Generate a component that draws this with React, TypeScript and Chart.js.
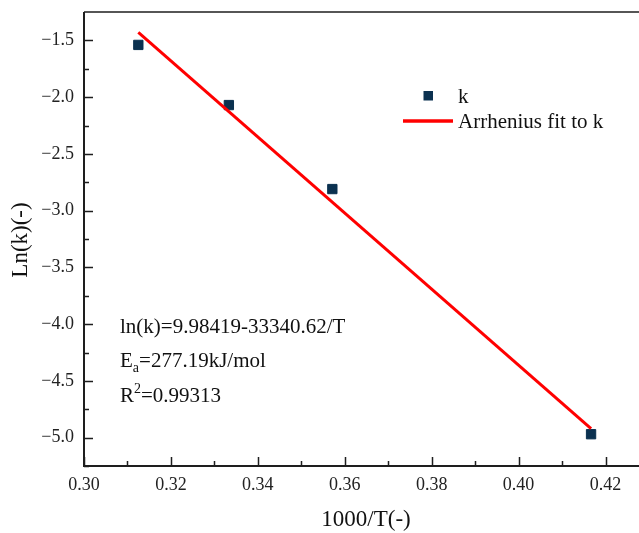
import React, { useEffect, useRef } from "react";
import { Chart, registerables } from "chart.js";

Chart.register(...registerables);

// Measured rate constants: x = 1000/T, y = ln(k)
const invTemp = [0.3125, 0.33333, 0.35714, 0.41667];
const lnK = [-1.54, -2.07, -2.81, -4.97];

// End points of the Arrhenius fit line
const fitInvTemp = [0.3125, 0.41667];
const fitLnK = [-1.43, -4.92];

// Axis ticks
const xTickValues = [0.3, 0.32, 0.34, 0.36, 0.38, 0.4, 0.42];
const xMinorValues = [0.31, 0.33, 0.35, 0.37, 0.39, 0.41];
const yTickValues = [-5.0, -4.5, -4.0, -3.5, -3.0, -2.5, -2.0, -1.5];
const yMinorValues = [-5.25, -4.75, -4.25, -3.75, -3.25, -2.75, -2.25, -1.75];

const X_MIN = 0.3;
const X_MAX = 0.4277;
const Y_MIN = -5.25;
const Y_MAX = -1.25;

const xTitle = "1000/T(-)";
const yTitle = "Ln(k)(-)";
const seriesLabel = "k";
const fitLabel = "Arrhenius fit to k";
const eqLine = "ln(k)=9.98419-33340.62/T";
const eaValue = "=277.19kJ/mol";
const r2Value = "=0.99313";

const SERIF = '"Liberation Serif", "Times New Roman", serif';
const NAVY = "#0b3150";
const RED = "#ff0000";
const INK = "#1e1e1e";

// The plot box runs to the right edge of the canvas.
const fullWidthPlugin = {
  id: "fullWidth",
  afterLayout(chart: any) {
    const area = chart.chartArea;
    area.right = chart.width;
    area.width = area.right - area.left;
    const xs = chart.scales.x;
    xs.right = chart.width;
    xs.width = xs.right - xs.left;
    xs.configure();
  },
};

const framePlugin = {
  id: "frameAndText",
  afterDraw(chart: any) {
    const { ctx, chartArea } = chart;
    const xs = chart.scales.x;
    const ys = chart.scales.y;
    const { left, top, bottom } = chartArea;
    const right = chart.width;
    ctx.save();

    // frame: left axis, bottom axis, top edge
    ctx.strokeStyle = INK;
    ctx.lineWidth = 2;
    ctx.beginPath();
    ctx.moveTo(left, top);
    ctx.lineTo(left, bottom);
    ctx.lineTo(right, bottom);
    ctx.stroke();
    ctx.lineWidth = 1.5;
    ctx.beginPath();
    ctx.moveTo(left, top);
    ctx.lineTo(right, top);
    ctx.stroke();

    // inward tick marks
    ctx.lineWidth = 1.5;
    ctx.beginPath();
    xTickValues.forEach((v) => {
      const px = Math.round(xs.getPixelForValue(v)) + 0.5;
      ctx.moveTo(px, bottom);
      ctx.lineTo(px, bottom - 9);
    });
    xMinorValues.forEach((v) => {
      const px = Math.round(xs.getPixelForValue(v)) + 0.5;
      ctx.moveTo(px, bottom);
      ctx.lineTo(px, bottom - 5);
    });
    yTickValues.forEach((v) => {
      const py = Math.round(ys.getPixelForValue(v)) + 0.5;
      ctx.moveTo(left, py);
      ctx.lineTo(left + 9, py);
    });
    yMinorValues.forEach((v) => {
      const py = Math.round(ys.getPixelForValue(v)) + 0.5;
      ctx.moveTo(left, py);
      ctx.lineTo(left + 5, py);
    });
    ctx.stroke();

    // axis titles
    ctx.fillStyle = "#111";
    ctx.font = `23px ${SERIF}`;
    ctx.textAlign = "center";
    ctx.textBaseline = "middle";
    ctx.fillText(xTitle, 366, 520);
    ctx.save();
    ctx.translate(21, 240);
    ctx.rotate(-Math.PI / 2);
    ctx.fillText(yTitle, 0, 0);
    ctx.restore();

    // legend
    ctx.fillStyle = NAVY;
    ctx.fillRect(423.5, 91, 9.5, 9.5);
    ctx.strokeStyle = RED;
    ctx.lineWidth = 3.5;
    ctx.beginPath();
    ctx.moveTo(403, 121);
    ctx.lineTo(453, 121);
    ctx.stroke();
    ctx.fillStyle = "#111";
    ctx.font = `21px ${SERIF}`;
    ctx.textAlign = "left";
    ctx.textBaseline = "alphabetic";
    ctx.fillText(seriesLabel, 458, 102.5);
    ctx.fillText(fitLabel, 458, 128);

    // fit statistics
    const tx = 120;
    ctx.fillText(eqLine, tx, 333);
    ctx.fillText("E", tx, 366.5);
    let w = ctx.measureText("E").width;
    ctx.font = `14px ${SERIF}`;
    ctx.fillText("a", tx + w, 372);
    const wa = ctx.measureText("a").width;
    ctx.font = `21px ${SERIF}`;
    ctx.fillText(eaValue, tx + w + wa, 366.5);
    ctx.fillText("R", tx, 401.5);
    w = ctx.measureText("R").width;
    ctx.font = `14px ${SERIF}`;
    ctx.fillText("2", tx + w, 393);
    const w2 = ctx.measureText("2").width;
    ctx.font = `21px ${SERIF}`;
    ctx.fillText(r2Value, tx + w + w2, 401.5);

    ctx.restore();
  },
};

export default function App() {
  const canvasRef = useRef<HTMLCanvasElement | null>(null);

  useEffect(() => {
    const canvas = canvasRef.current;
    if (!canvas) return;
    const chart = new Chart(canvas, {
      type: "scatter",
      data: {
        datasets: [
          {
            type: "line",
            label: fitLabel,
            data: fitInvTemp.map((x, i) => ({ x, y: fitLnK[i] })),
            borderColor: RED,
            borderWidth: 3,
            pointRadius: 0,
            showLine: true,
            fill: false,
            order: 0,
          } as any,
          {
            type: "scatter",
            label: seriesLabel,
            data: invTemp.map((x, i) => ({ x, y: lnK[i] })),
            pointStyle: "rect",
            pointRadius: 6.6,
            backgroundColor: NAVY,
            borderColor: NAVY,
            borderWidth: 1,
            order: 1,
          },
        ],
      },
      options: {
        responsive: false,
        animation: false,
        devicePixelRatio: 1,
        layout: { padding: { top: 12, right: 0, bottom: 0, left: 0 } },
        plugins: {
          legend: { display: false },
          tooltip: { enabled: false },
        },
        scales: {
          x: {
            type: "linear",
            min: X_MIN,
            max: X_MAX,
            grid: { display: false, drawTicks: false },
            border: { display: false },
            afterBuildTicks: (scale: any) => {
              scale.ticks = xTickValues.map((v) => ({ value: v }));
            },
            afterFit: (scale: any) => {
              scale.height = 67;
              scale.paddingLeft = 0;
              scale.paddingRight = 0;
            },
            ticks: {
              padding: 8,
              color: "#222",
              font: { family: SERIF, size: 18 },
              maxRotation: 0,
              autoSkip: false,
              callback: (v: any) => Number(v).toFixed(2),
            },
          },
          y: {
            type: "linear",
            min: Y_MIN,
            max: Y_MAX,
            grid: { display: false, drawTicks: false },
            border: { display: false },
            afterBuildTicks: (scale: any) => {
              scale.ticks = yTickValues.map((v) => ({ value: v }));
            },
            afterFit: (scale: any) => {
              scale.width = 84;
              scale.paddingTop = 0;
              scale.paddingBottom = 0;
            },
            ticks: {
              padding: 10,
              color: "#222",
              font: { family: SERIF, size: 18 },
              autoSkip: false,
              callback: (v: any) => Number(v).toFixed(1).replace("-", "\u2212"),
            },
          },
        },
      },
      plugins: [fullWidthPlugin, framePlugin],
    });
    return () => chart.destroy();
  }, []);

  return (
    <div
      style={{
        position: "fixed",
        left: 0,
        top: 0,
        width: 639,
        height: 533,
        background: "#fff",
        overflow: "hidden",
      }}
    >
      <canvas ref={canvasRef} width={639} height={533} />
    </div>
  );
}
